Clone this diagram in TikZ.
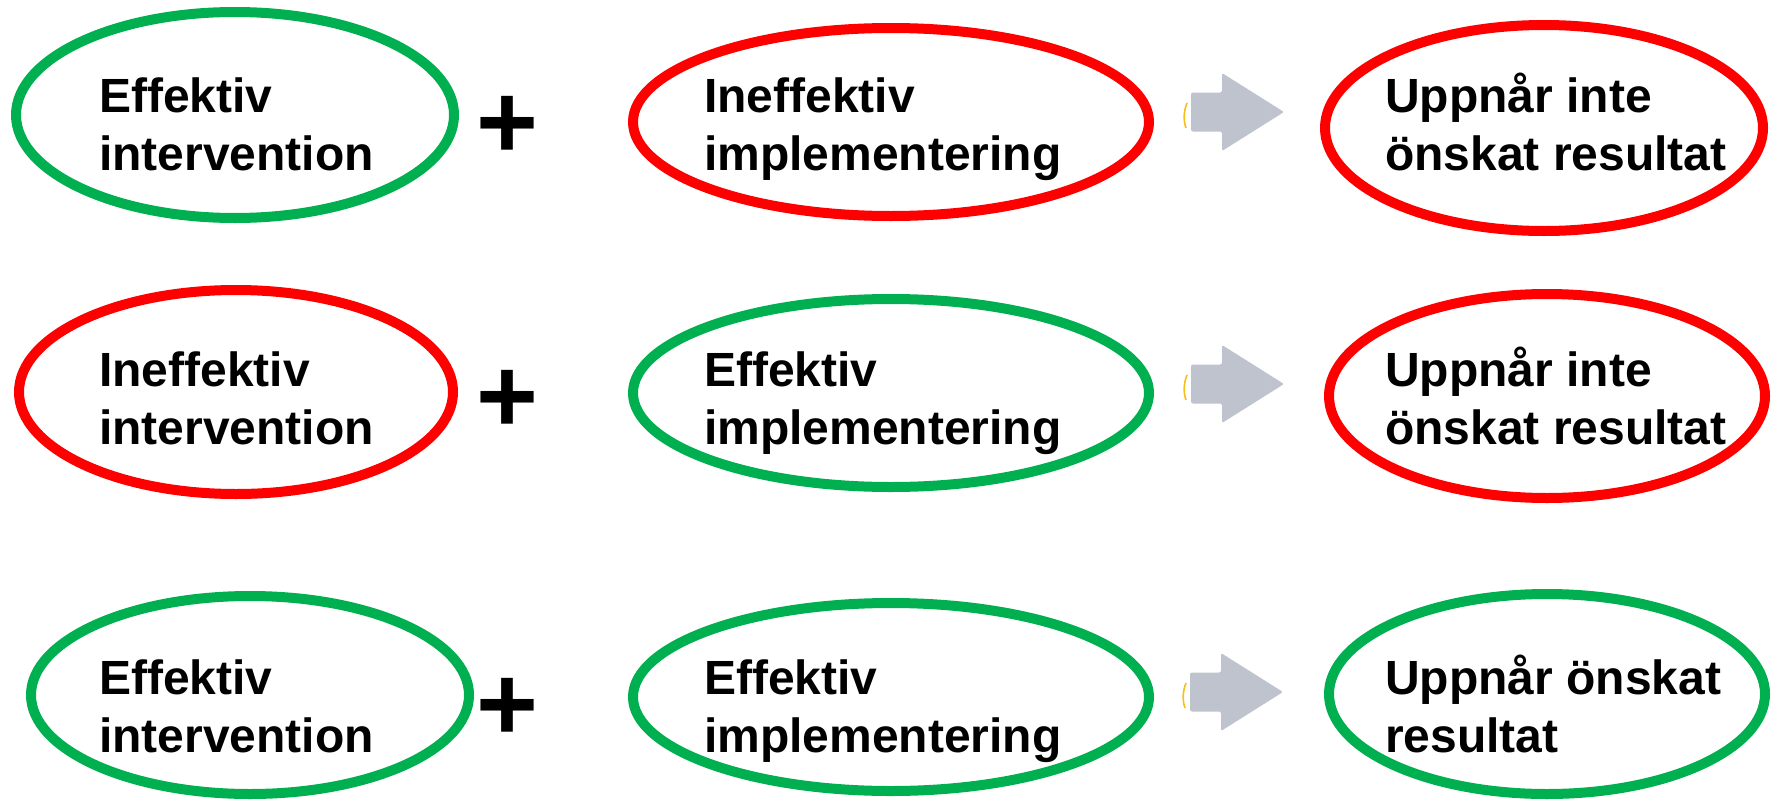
\documentclass[tikz,border=0pt]{standalone}
\usepackage{fontspec}
\setmainfont{Liberation Sans}
\usetikzlibrary{shapes.geometric}
\definecolor{okgreen}{RGB}{0,176,80}
\definecolor{badred}{RGB}{255,0,0}
\definecolor{arrowgray}{RGB}{191,195,206}
\definecolor{sliver}{RGB}{250,190,20}
\tikzset{
  oval/.style n args={3}{ellipse, draw=#1, line width=10pt, minimum width=#2, minimum height=#3, inner sep=0pt},
  lbl/.style={anchor=base west, inner sep=0pt, align=left, font=\bfseries\fontsize{48}{57.5}\selectfont},
  plussign/.style={anchor=base, inner sep=0pt, font=\bfseries\fontsize{106}{110}\selectfont},
  blockarrow/.style={fill=arrowgray, rounded corners=2pt},
}
\newcommand{\blockarr}[1]{%
  \fill[blockarrow] (#1) ++(0,-19.5) -- ++(31,0) -- ++(0,-19.5) -- ++(62,39) -- ++(-62,39) -- ++(0,-19.5) -- ++(-31,0) -- cycle;
  \draw[sliver, line width=1.6pt] (#1) ++(-4,-9) .. controls ++(-3,7) and ++(-3,-8) .. ++(-1,25);
}
\begin{document}
\begin{tikzpicture}[x=1pt,y=-1pt]
\useasboundingbox (0,0) rectangle (1777,803);
% row 1
\node[oval={okgreen}{438}{206}] (e11) at (235,115) {};
\node[oval={badred}{516}{188}] (e12) at (891,122) {};
\node[oval={badred}{438}{206}] (e13) at (1544,128) {};
\node[lbl] (t11) at (99,170) {Effektiv\\intervention};
\node[lbl] (t12) at (704,170) {Ineffektiv\\implementering};
\node[lbl] (t13) at (1385,170) {Uppnår inte\\önskat resultat};
\node[plussign] (p1) at (507,158) {+};
\coordinate (a1) at (1191,112);
\blockarr{a1}
% row 2
\node[oval={badred}{434}{204}] (e21) at (236,392) {};
\node[oval={okgreen}{516}{188}] (e22) at (891,393) {};
\node[oval={badred}{436}{204}] (e23) at (1547,396) {};
\node[lbl] (t21) at (99,444) {Ineffektiv\\intervention};
\node[lbl] (t22) at (704,444) {Effektiv\\implementering};
\node[lbl] (t23) at (1385,444) {Uppnår inte\\önskat resultat};
\node[plussign] (p2) at (507,432) {+};
\coordinate (a2) at (1191,384);
\blockarr{a2}
% row 3
\node[oval={okgreen}{438}{198}] (e31) at (250,695) {};
\node[oval={okgreen}{516}{188}] (e32) at (891,697) {};
\node[oval={okgreen}{436}{200}] (e33) at (1547,694) {};
\node[lbl] (t31) at (99,752) {Effektiv\\intervention};
\node[lbl] (t32) at (704,752) {Effektiv\\implementering};
\node[lbl] (t33) at (1385,752) {Uppnår önskat\\resultat};
\node[plussign] (p3) at (507,740) {+};
\coordinate (a3) at (1190,692);
\blockarr{a3}
\end{tikzpicture}
\end{document}
